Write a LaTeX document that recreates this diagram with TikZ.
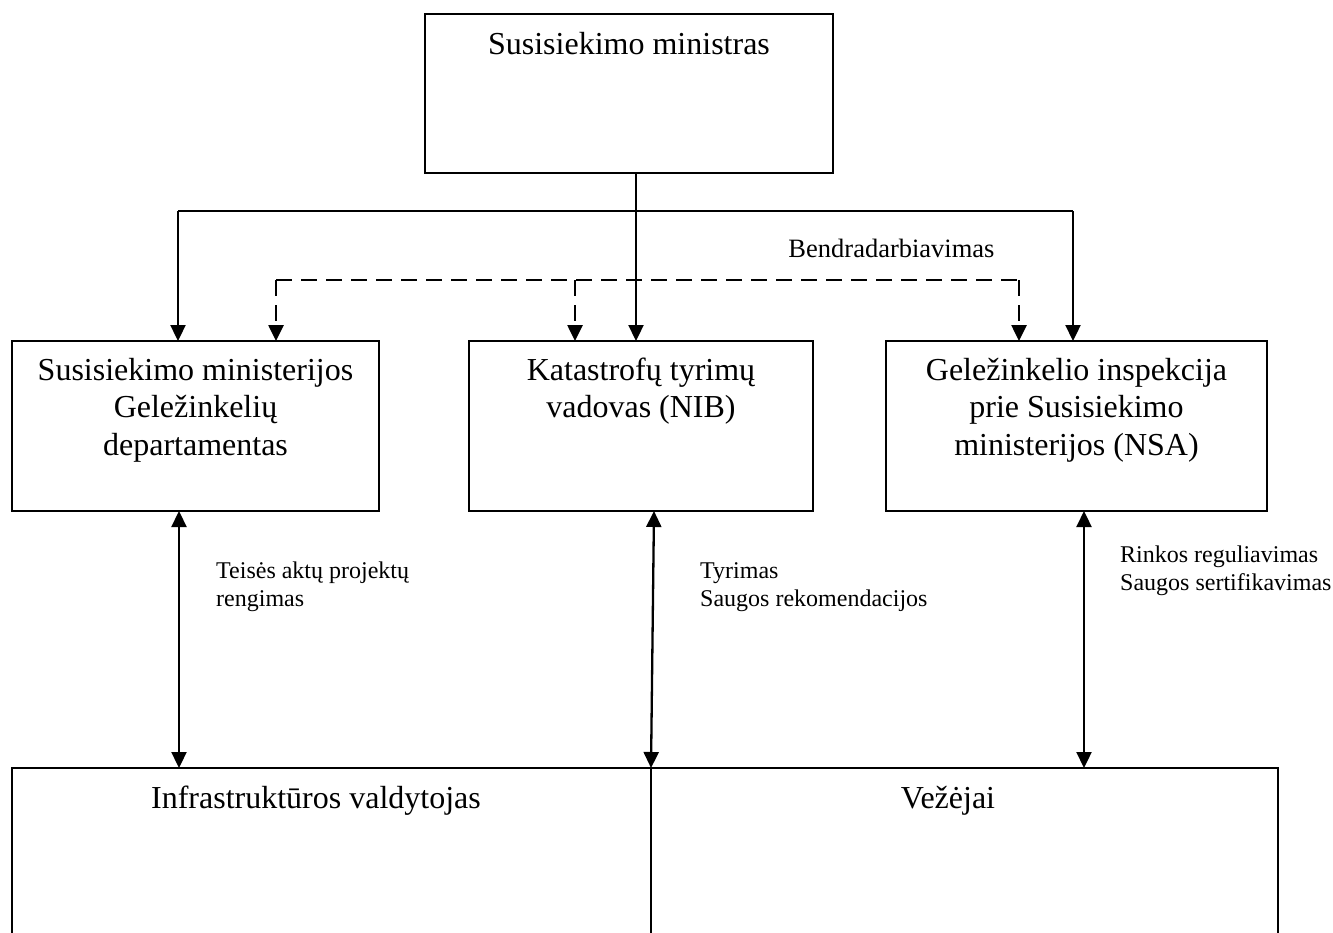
\documentclass[tikz,border=0pt]{standalone}
\usepackage{fontspec}
\setmainfont{Liberation Serif}
\usetikzlibrary{arrows.meta,calc}
\begin{document}
\begin{tikzpicture}[x=1pt,y=-1pt,
 box/.style={draw, line width=1.9pt, rectangle, inner sep=0pt, outer sep=0pt},
 bigtext/.style={font=\fontsize{32}{37.5}\selectfont, align=center, anchor=base, inner sep=0pt},
 smalltext/.style={font=\fontsize{24}{28.5}\selectfont, align=left, anchor=base west, inner sep=0pt},
 conn/.style={line width=2.3pt},
 arrowend/.style={-{Triangle[length=16pt,width=15pt]}},
 arrowboth/.style={{Triangle[length=16pt,width=15pt]}-{Triangle[length=16pt,width=15pt]}},
 dashline/.style={line width=2.6pt, dash pattern=on 16pt off 9pt}]
\useasboundingbox (0,0) rectangle (1333,932);
\clip (0,0) rectangle (1333,932);

% boxes (text nodes anchored at the baseline of their last line)
\node[box, minimum width=408pt, minimum height=159pt] (top) at (629,93.5) {};
\node[bigtext] (toptext) at (629,54) {Susisiekimo ministras};

\node[box, minimum width=367pt, minimum height=170pt] (dep) at (195.5,426) {};
\node[bigtext] (deptext) at (195.5,455) {Susisiekimo ministerijos\\Geležinkelių\\departamentas};

\node[box, minimum width=344pt, minimum height=170pt] (nib) at (641,426) {};
\node[bigtext] (nibtext) at (641,417.5) {Katastrofų tyrimų\\vadovas (NIB)};

\node[box, minimum width=381pt, minimum height=170pt] (nsa) at (1076.5,426) {};
\node[bigtext] (nsatext) at (1076.5,455) {Geležinkelio inspekcija\\prie Susisiekimo\\ministerijos (NSA)};

\node[box, minimum width=639pt, minimum height=242pt] (infra) at (331.5,889) {};
\node[bigtext] (infratext) at (316,808) {Infrastruktūros valdytojas};

\node[box, minimum width=627pt, minimum height=242pt] (vez) at (964.5,889) {};
\node[bigtext] (veztext) at (948,808) {Vežėjai};

% labels
\node[font=\fontsize{26.5}{30}\selectfont, anchor=base, inner sep=0pt] (coop) at (891.5,257) {Bendradarbiavimas};
\node[smalltext] (l1) at (216,606.5) {Teisės aktų projektų\\rengimas};
\node[smalltext] (l2) at (700,606.5) {Tyrimas\\Saugos rekomendacijos};
\node[smalltext] (l3) at (1120,590.5) {Rinkos reguliavimas\\Saugos sertifikavimas};

% solid bus
\coordinate (busL) at (178,211);
\coordinate (busR) at (1073,211);
\coordinate (busM) at (636,211);
\draw[conn] (busL) -- (busR);
\draw[conn, arrowend] (busL) -- (busL |- dep.north);
\draw[conn, arrowend] (busR) -- (busR |- nsa.north);
\draw[conn, arrowend] (busM |- top.south) -- (busM |- nib.north);

% dashed cooperation bus
\coordinate (coL) at (276,280);
\coordinate (coM) at (575,280);
\coordinate (coR) at (1019,280);
\draw[dashline] (coL) -- (coR);
\draw[dashline, arrowend] (coL) -- (coL |- dep.north);
\draw[dashline, arrowend] (coM) -- (coM |- nib.north);
\draw[dashline, arrowend] (coR) -- (coR |- nsa.north);

% two-way arrows
\coordinate (aL) at (179,0);
\coordinate (aM1) at (654,0);
\coordinate (aM2) at (651,0);
\coordinate (aR) at (1084,0);
\draw[conn, arrowboth] (dep.south -| aL) -- (infra.north -| aL);
\draw[conn, arrowboth] (nib.south -| aM1) -- (infra.north -| aM2);
\draw[conn, arrowboth] (nsa.south -| aR) -- (vez.north -| aR);
\end{tikzpicture}
\end{document}
